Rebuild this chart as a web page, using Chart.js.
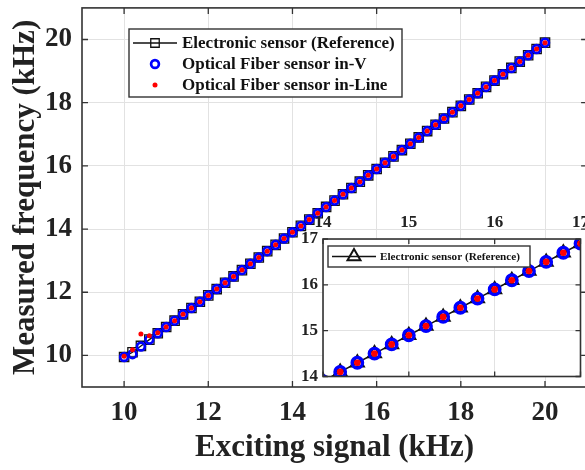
<!DOCTYPE html>
<html>
<head>
<meta charset="utf-8">
<script src="https://cdn.jsdelivr.net/npm/chart.js@4.4.1/dist/chart.umd.min.js"></script>
<style>
  html, body { margin: 0; padding: 0; background: #fff; overflow: hidden; }
  #wrap { position: relative; width: 585px; height: 470px; overflow: hidden; }
  #mainChart { position: absolute; left: 0; top: 0; }
  #insetChart { position: absolute; left: 286px; top: 200px; }
</style>
</head>
<body>
<div id="wrap">
  <canvas id="mainChart" width="595" height="470"></canvas>
  <canvas id="insetChart" width="304" height="186"></canvas>
</div>
<script>
// exciting signal (kHz)
const excitingKHz = [10, 10.2, 10.4, 10.6, 10.8, 11, 11.2, 11.4, 11.6, 11.8,
  12, 12.2, 12.4, 12.6, 12.8, 13, 13.2, 13.4, 13.6, 13.8,
  14, 14.2, 14.4, 14.6, 14.8, 15, 15.2, 15.4, 15.6, 15.8,
  16, 16.2, 16.4, 16.6, 16.8, 17, 17.2, 17.4, 17.6, 17.8,
  18, 18.2, 18.4, 18.6, 18.8, 19, 19.2, 19.4, 19.6, 19.8, 20]

// measured frequency (kHz)
const referenceKHz = [9.95, 10.1, 10.3, 10.5, 10.7, 10.9, 11.1, 11.3, 11.5, 11.7,
  11.9, 12.1, 12.3, 12.5, 12.7, 12.9, 13.1, 13.3, 13.5, 13.7,
  13.9, 14.1, 14.3, 14.5, 14.7, 14.9, 15.1, 15.3, 15.5, 15.7,
  15.9, 16.1, 16.3, 16.5, 16.7, 16.9, 17.1, 17.3, 17.5, 17.7,
  17.9, 18.1, 18.3, 18.5, 18.7, 18.9, 19.1, 19.3, 19.5, 19.7, 19.9]

const inVKHz = [9.95, 10.04, 10.28, 10.5, 10.7, 10.9, 11.1, 11.3, 11.5, 11.7,
  11.9, 12.1, 12.3, 12.5, 12.7, 12.9, 13.1, 13.3, 13.5, 13.7,
  13.9, 14.1, 14.3, 14.5, 14.7, 14.9, 15.1, 15.3, 15.5, 15.7,
  15.9, 16.1, 16.3, 16.5, 16.7, 16.9, 17.1, 17.3, 17.5, 17.7,
  17.9, 18.1, 18.3, 18.5, 18.7, 18.9, 19.1, 19.3, 19.5, 19.7, 19.9]

const inLineKHz = [9.97, 10.18, 10.68, 10.62, 10.72, 10.9, 11.1, 11.3, 11.5, 11.7,
  11.9, 12.1, 12.3, 12.5, 12.7, 12.9, 13.1, 13.3, 13.5, 13.7,
  13.9, 14.1, 14.3, 14.5, 14.7, 14.9, 15.1, 15.3, 15.5, 15.7,
  15.9, 16.1, 16.3, 16.5, 16.7, 16.9, 17.1, 17.3, 17.5, 17.7,
  17.9, 18.1, 18.3, 18.5, 18.7, 18.9, 19.1, 19.3, 19.5, 19.7, 19.9]

const mainTicks = [10, 12, 14, 16, 18, 20]
const insetTicks = [14, 15, 16, 17]

const seriesNames = ['Electronic sensor (Reference)', 'Optical Fiber sensor in-V', 'Optical Fiber sensor in-Line']

const serif = "'Liberation Serif', 'Times New Roman', serif"

function pairs(ys) {
    return excitingKHz.map((x, i) => ({ x: x, y: ys[i] }))
}

function useTicks(values) {
    return function (scale) {
        scale.ticks = values.map(v => ({ value: v }))
    }
}

//fixed axis size, no extra label padding
function fixSize(w, h) {
    return function (scale) {
        if (w) scale.width = w
        if (h) scale.height = h
        scale.paddingLeft = 0
        scale.paddingRight = 0
        scale.paddingTop = 0
        scale.paddingBottom = 0
    }
}

//frame, inward ticks and white background
const framePlugin = {
    id: 'frame',
    beforeDraw(chart, args, opts) {
        if (!opts.fill) return
        const a = chart.chartArea
        const ctx = chart.ctx
        ctx.save()
        ctx.fillStyle = '#fff'
        ctx.fillRect(a.left, a.top, a.right - a.left, a.bottom - a.top)
        ctx.restore()
    },
    afterDatasetsDraw(chart, args, opts) {
        const a = chart.chartArea
        const ctx = chart.ctx
        const len = opts.tickLength || 6
        ctx.save()
        ctx.strokeStyle = '#333'
        ctx.lineWidth = 1.3
        ctx.beginPath()
        chart.scales.x.ticks.forEach(t => {
            const px = chart.scales.x.getPixelForValue(t.value)
            ctx.moveTo(px, a.bottom); ctx.lineTo(px, a.bottom - len)
            ctx.moveTo(px, a.top); ctx.lineTo(px, a.top + len)
        })
        chart.scales.y.ticks.forEach(t => {
            const py = chart.scales.y.getPixelForValue(t.value)
            ctx.moveTo(a.left, py); ctx.lineTo(a.left + len, py)
            ctx.moveTo(a.right, py); ctx.lineTo(a.right - len, py)
        })
        ctx.stroke()
        ctx.lineWidth = 1.6
        ctx.strokeRect(a.left, a.top, a.right - a.left, a.bottom - a.top)
        ctx.restore()
    }
}

//legend box drawn inside the plot
const boxLegend = {
    id: 'boxLegend',
    afterDraw(chart, args, opts) {
        const ctx = chart.ctx
        ctx.save()
        ctx.fillStyle = '#fff'
        ctx.fillRect(opts.x, opts.y, opts.w, opts.h)
        ctx.strokeStyle = '#333'
        ctx.lineWidth = 1.4
        ctx.strokeRect(opts.x, opts.y, opts.w, opts.h)
        ctx.font = 'bold ' + opts.size + 'px ' + serif
        ctx.textBaseline = 'middle'
        opts.items.forEach((idx, row) => {
            const ds = chart.data.datasets[idx]
            const cy = opts.y + opts.first + row * opts.rowGap
            const mx = opts.x + opts.markerX
            if (ds.showLine) {
                ctx.strokeStyle = ds.borderColor
                ctx.lineWidth = ds.borderWidth
                ctx.beginPath()
                ctx.moveTo(mx - opts.lineHalf, cy)
                ctx.lineTo(mx + opts.lineHalf, cy)
                ctx.stroke()
            }
            ctx.fillStyle = ds.pointBackgroundColor
            ctx.strokeStyle = ds.pointBorderColor
            ctx.lineWidth = ds.pointBorderWidth
            Chart.helpers.drawPoint(ctx, {
                pointStyle: ds.pointStyle,
                radius: opts.markerRadius[row],
                rotation: 0,
                borderWidth: ds.pointBorderWidth
            }, mx, cy)
            ctx.fillStyle = '#111'
            ctx.fillText(seriesNames[idx], opts.x + opts.textX, cy + 1)
        })
        ctx.restore()
    }
}

function buildDatasets(big) {
    return [
        {
            label: seriesNames[0],
            data: pairs(referenceKHz),
            showLine: true,
            borderColor: '#111',
            borderWidth: big ? 1.6 : 1.3,
            pointStyle: big ? 'triangle' : 'rect',
            pointRadius: big ? 7.5 : 6.6,
            pointBorderColor: '#111',
            pointBackgroundColor: 'rgba(0,0,0,0)',
            pointBorderWidth: big ? 2 : 1.3,
            order: 3
        },
        {
            label: seriesNames[1],
            data: pairs(inVKHz),
            showLine: false,
            pointStyle: 'circle',
            pointRadius: big ? 5.2 : 3.9,
            pointBorderColor: 'rgb(0,0,255)',
            pointBackgroundColor: 'rgba(0,0,0,0)',
            pointBorderWidth: big ? 3.4 : 2.7,
            order: 2
        },
        {
            label: seriesNames[2],
            data: pairs(inLineKHz),
            showLine: false,
            pointStyle: 'circle',
            pointRadius: big ? 3.3 : 2.5,
            pointBorderColor: 'rgb(255,0,0)',
            pointBackgroundColor: 'rgb(255,0,0)',
            pointBorderWidth: 0,
            order: 1
        }
    ]
}

window.addEventListener('load', () => {

    //Main chart
    var ctx = document.getElementById('mainChart')

    new Chart(ctx, {
        type: 'scatter',
        data: { datasets: buildDatasets(false) },
        options: {
            responsive: false,
            animation: false,
            layout: { padding: { top: 4, right: 5, left: 0, bottom: 0 } },
            plugins: {
                legend: { display: false },
                tooltip: { enabled: false },
                frame: { tickLength: 6 },
                boxLegend: {
                    x: 129, y: 29, w: 273, h: 68, size: 17,
                    first: 14, rowGap: 21, markerX: 26, lineHalf: 22, textX: 53,
                    markerRadius: [6, 3.9, 2.5],
                    items: [0, 1, 2]
                }
            },
            scales: {
                x: {
                    type: 'linear',
                    min: 9, max: 21,
                    afterBuildTicks: useTicks(mainTicks),
                    afterFit: fixSize(0, 83),
                    grid: { color: '#e2e2e2', lineWidth: 1, drawTicks: false },
                    border: { display: false },
                    ticks: { color: '#222', padding: 10, font: { family: serif, size: 27, weight: 'bold' } },
                    title: {
                        display: true, text: 'Exciting signal (kHz)', color: '#222',
                        font: { family: serif, size: 31, weight: 'bold' },
                        padding: { top: 0, bottom: 3 }
                    }
                },
                y: {
                    type: 'linear',
                    min: 9, max: 21,
                    afterBuildTicks: useTicks(mainTicks),
                    afterFit: fixSize(82, 0),
                    grid: { color: '#e2e2e2', lineWidth: 1, drawTicks: false },
                    border: { display: false },
                    ticks: { color: '#222', padding: 10, font: { family: serif, size: 27, weight: 'bold' } },
                    title: {
                        display: true, text: 'Measured frequency (kHz)', color: '#222',
                        font: { family: serif, size: 31, weight: 'bold' },
                        padding: { top: 7, bottom: 0 }
                    }
                }
            }
        },
        plugins: [framePlugin, boxLegend]
    })

    //Inset zoom chart
    var ctx = document.getElementById('insetChart')

    new Chart(ctx, {
        type: 'scatter',
        data: { datasets: buildDatasets(true) },
        options: {
            responsive: false,
            animation: false,
            layout: { padding: { top: 0, right: 9, left: 0, bottom: 6 } },
            plugins: {
                legend: { display: false },
                tooltip: { enabled: false },
                frame: { tickLength: 5, fill: true },
                boxLegend: {
                    x: 42, y: 46, w: 202, h: 21, size: 11.2,
                    first: 10.5, rowGap: 0, markerX: 26, lineHalf: 22, textX: 52,
                    markerRadius: [7.5],
                    items: [0]
                }
            },
            scales: {
                x: {
                    type: 'linear',
                    position: 'top',
                    min: 14, max: 17,
                    afterBuildTicks: useTicks(insetTicks),
                    afterFit: fixSize(0, 39),
                    grid: { color: '#e2e2e2', lineWidth: 1, drawTicks: false },
                    border: { display: false },
                    ticks: { color: '#222', padding: 6, font: { family: serif, size: 17, weight: 'bold' } }
                },
                y: {
                    type: 'linear',
                    min: 14, max: 17,
                    afterBuildTicks: useTicks(insetTicks),
                    afterFit: fixSize(37, 0),
                    grid: { color: '#e2e2e2', lineWidth: 1, drawTicks: false },
                    border: { display: false },
                    ticks: { color: '#222', padding: 5, font: { family: serif, size: 17, weight: 'bold' } }
                }
            }
        },
        plugins: [framePlugin, boxLegend]
    })
});
</script>
</body>
</html>
